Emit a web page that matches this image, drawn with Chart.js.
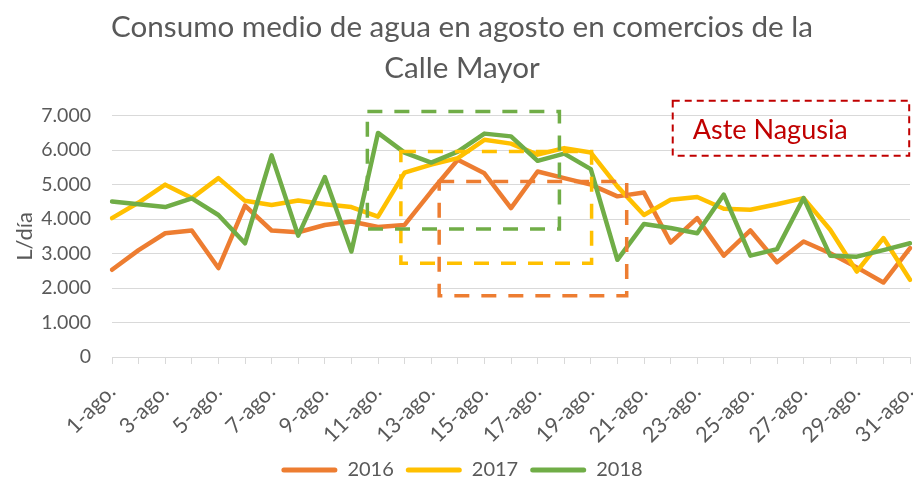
<!DOCTYPE html>
<html><head><meta charset="utf-8">
<script src="https://cdn.jsdelivr.net/npm/chart.js@4.4.1/dist/chart.umd.min.js"></script>
<style>html,body{margin:0;padding:0;background:#fff;}</style>
</head><body>
<canvas id="c" width="913" height="483"></canvas>
<script>
const categories = ['1-ago.','2-ago.','3-ago.','4-ago.','5-ago.','6-ago.','7-ago.','8-ago.','9-ago.','10-ago.',
  '11-ago.','12-ago.','13-ago.','14-ago.','15-ago.','16-ago.','17-ago.','18-ago.','19-ago.','20-ago.',
  '21-ago.','22-ago.','23-ago.','24-ago.','25-ago.','26-ago.','27-ago.','28-ago.','29-ago.','30-ago.','31-ago.'];
const values2016 = [2530,3100,3590,3670,2580,4390,3670,3620,3830,3930,3770,3830,4800,5720,5330,4320,5380,5190,5000,4660,4770,3320,4030,2940,3670,2750,3350,3010,2600,2160,3160];
const values2017 = [4030,4480,5000,4610,5190,4530,4410,4540,4430,4350,4070,5350,5580,5770,6300,6190,5870,6060,5930,4950,4120,4560,4640,4300,4270,4430,4610,3690,2480,3450,2240];
const values2018 = [4510,4430,4350,4600,4120,3300,5850,3520,5220,3060,6500,5930,5640,5960,6480,6400,5690,5900,5450,2820,3860,3740,3590,4710,2940,3130,4610,2940,2910,3100,3300];
const seriesNames = ['2016','2017','2018'];
const yTickLabels = ['0','1.000','2.000','3.000','4.000','5.000','6.000','7.000'];
const titleLines = ['Consumo medio de agua en agosto en comercios de la','Calle Mayor'];
const yAxisTitle = 'L/día';
// dashed highlight boxes (category index / value units), one per series
const boxXFrom = [12.3, 10.86, 9.6];
const boxXTo = [19.35, 18.03, 16.82];
const boxYFrom = [1780, 2720, 3710];
const boxYTo = [5090, 5960, 7120];
const noteText = 'Aste Nagusia';
const noteXRange = [21.08, 29.97];
const noteYRange = [5840, 7435];

const colors = ['#ED7D31', '#FFC000', '#70AD47'];
const textColor = '#595959';
const gridColor = '#D9D9D9';
Chart.defaults.font.family = 'Lato';

const annotations = {
  id: 'annotations',
  afterDatasetsDraw(chart) {
    const {ctx, scales: {x, y}} = chart;
    ctx.save();
    for (let i = 0; i < boxXFrom.length; i++) {
      const l = x.getPixelForValue(boxXFrom[i]), r = x.getPixelForValue(boxXTo[i]);
      const t = y.getPixelForValue(boxYTo[i]), b = y.getPixelForValue(boxYFrom[i]);
      ctx.strokeStyle = colors[i];
      ctx.lineWidth = 3.5;
      ctx.setLineDash([15, 12]);
      ctx.strokeRect(l, t, r - l, b - t);
    }
    const nl = x.getPixelForValue(noteXRange[0]), nr = x.getPixelForValue(noteXRange[1]);
    const nt = y.getPixelForValue(noteYRange[1]), nb = y.getPixelForValue(noteYRange[0]);
    ctx.strokeStyle = '#C00000';
    ctx.lineWidth = 2;
    ctx.setLineDash([7, 5]);
    ctx.strokeRect(nl, nt, nr - nl, nb - nt);
    ctx.setLineDash([]);
    ctx.fillStyle = '#C00000';
    ctx.font = '27px Lato';
    ctx.textBaseline = 'middle';
    ctx.textAlign = 'left';
    ctx.fillText(noteText, nl + 20, (nt + nb) / 2 + 2);
    ctx.restore();
  }
};

const seriesValues = [values2016, values2017, values2018];
new Chart(document.getElementById('c'), {
  type: 'line',
  data: {
    labels: categories,
    datasets: seriesNames.map((name, i) => ({
      label: name,
      data: seriesValues[i],
      borderColor: colors[i],
      backgroundColor: colors[i],
      borderWidth: 4.5,
      pointRadius: 0,
      pointHoverRadius: 0,
      tension: 0,
      borderJoinStyle: 'round',
      borderCapStyle: 'round',
      fill: false,
      order: seriesNames.length - i
    }))
  },
  options: {
    responsive: false,
    animation: false,
    devicePixelRatio: 1,
    layout: {padding: {left: 14, right: 3, top: 0, bottom: -7}},
    plugins: {
      title: {
        display: true,
        text: titleLines,
        color: textColor,
        font: {family: 'Lato', size: 29.6, weight: 'normal', lineHeight: 1.38},
        padding: {top: 7, bottom: 27}
      },
      legend: {
        position: 'bottom',
        labels: {
          color: textColor,
          font: {family: 'Lato', size: 20},
          boxWidth: 56,
          boxHeight: 5,
          padding: 12,
          sort: (a, b) => a.datasetIndex - b.datasetIndex,
          generateLabels: (chart) => Chart.defaults.plugins.legend.labels.generateLabels(chart)
            .map(it => Object.assign(it, {lineWidth: 0, borderRadius: 2.5}))
        }
      },
      tooltip: {enabled: false}
    },
    scales: {
      x: {
        offset: false,
        grid: {display: true, drawOnChartArea: false, drawTicks: true, tickLength: 7, color: gridColor},
        border: {display: true, color: gridColor, width: 1},
        ticks: {
          autoSkip: false, maxRotation: 45, minRotation: 45, color: textColor, padding: 15,
          font: {family: 'Lato', size: 21.5},
          callback: function(v, i) { return i % 2 === 0 ? categories[i] : ''; }
        },
        afterFit: (s) => { s.height = 91; s.paddingLeft = 0; s.paddingRight = 0; }
      },
      y: {
        min: 0, max: 7000,
        grid: {color: gridColor, drawTicks: false},
        border: {display: false},
        ticks: {
          stepSize: 1000, color: textColor, padding: 21,
          font: {family: 'Lato', size: 19.5},
          callback: (v) => yTickLabels[Math.round(v / 1000)]
        },
        title: {display: true, text: yAxisTitle, color: textColor, font: {family: 'Lato', size: 22, lineHeight: 1}, padding: {top: 0, bottom: 0}},
        afterFit: (s) => { s.width = 98; }
      }
    }
  },
  plugins: [annotations]
});
</script>
</body></html>
